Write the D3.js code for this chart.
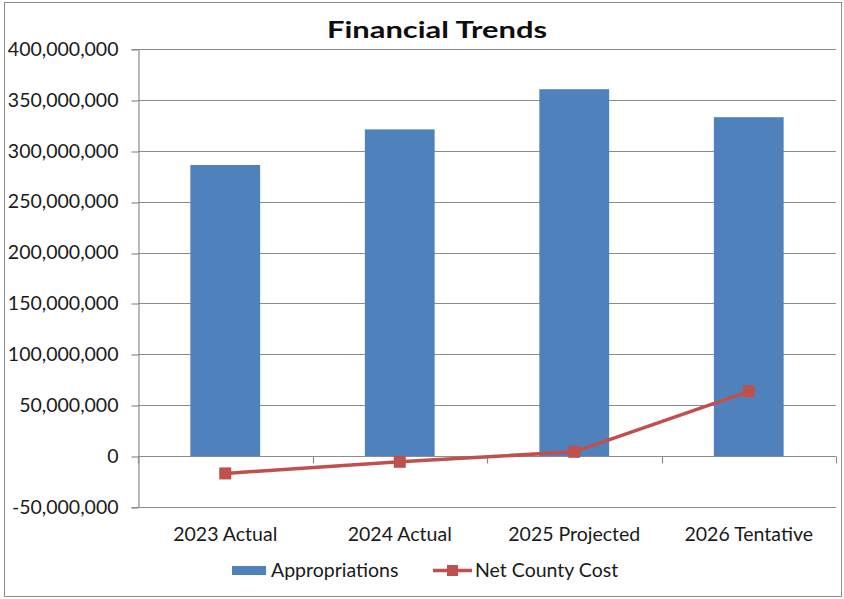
<!DOCTYPE html>
<html>
<head>
<meta charset="utf-8">
<script src="https://cdn.jsdelivr.net/npm/d3@7"></script>
<style>
  html, body { margin: 0; padding: 0; background: #fff; }
  svg { display: block; font-family: Lato, "Open Sans", sans-serif; }
</style>
</head>
<body>
<svg id="chart" width="844" height="599"></svg>
<script>
// Budget categories and series (dollars)
const categories = ["2023 Actual", "2024 Actual", "2025 Projected", "2026 Tentative"];
const appropriations = [286000000, 321000000, 360500000, 333000000];
const netCountyCost = [-17000000, -5600000, 4200000, 63700000];
const yTicks = [-50000000, 0, 50000000, 100000000, 150000000, 200000000, 250000000, 300000000, 350000000, 400000000];

const svg = d3.select("#chart");
const plot = { left: 138, right: 836, top: 49, bottom: 507 };
const labelSize = 19.5;
const textColor = "#1a1a1a";
const gridColor = "#8c8c8c";

// outer chart frame
svg.append("rect")
  .attr("x", 4.5).attr("y", 2.5).attr("width", 837).attr("height", 594)
  .attr("fill", "#fff").attr("stroke", gridColor).attr("stroke-width", 1);

const x = d3.scaleBand().domain(categories).range([plot.left, plot.right]).paddingInner(0).paddingOuter(0);
const y = d3.scaleLinear().domain([-50000000, 400000000]).range([plot.bottom, plot.top]);
const snap = v => Math.round(v) + 0.5;

// horizontal gridlines
svg.append("g").selectAll("line").data(yTicks).join("line")
  .attr("x1", plot.left).attr("x2", plot.right)
  .attr("y1", d => snap(y(d))).attr("y2", d => snap(y(d)))
  .attr("stroke", gridColor).attr("stroke-width", 1.2);

// y axis
const yAxis = d3.axisLeft(y).tickValues(yTicks).tickSize(7).tickPadding(13)
  .tickFormat(d => d3.format(",")(d).replace("−", "-"));
const gy = svg.append("g").attr("transform", `translate(${plot.left + 0.5},0)`).call(yAxis);
gy.select(".domain").attr("stroke", gridColor).attr("stroke-width", 1.2);
gy.selectAll(".tick line").attr("stroke", gridColor).attr("stroke-width", 1.2)
  .attr("transform", d => `translate(0,${snap(y(d)) - y(d)})`);
gy.selectAll(".tick text").attr("font-size", labelSize).attr("fill", textColor)
  .attr("font-family", "Lato, sans-serif");

// bars
const barW = x.bandwidth() / 2.5;
svg.append("g").selectAll("rect").data(appropriations).join("rect")
  .attr("x", (d, i) => x(categories[i]) + (x.bandwidth() - barW) / 2)
  .attr("y", d => y(d))
  .attr("width", barW)
  .attr("height", d => y(0) - y(d))
  .attr("fill", "#4f81bd");

// x axis along the zero line
const zeroY = snap(y(0));
svg.append("line").attr("x1", plot.left).attr("x2", plot.right).attr("y1", zeroY).attr("y2", zeroY)
  .attr("stroke", gridColor).attr("stroke-width", 1.2);
const boundaries = categories.map(c => x(c)).concat([plot.right]);
svg.append("g").selectAll("line").data(boundaries).join("line")
  .attr("x1", d => snap(d)).attr("x2", d => snap(d))
  .attr("y1", zeroY).attr("y2", zeroY + 7)
  .attr("stroke", gridColor).attr("stroke-width", 1.2);

// category labels
svg.append("g").selectAll("text").data(categories).join("text")
  .attr("x", d => x(d) + x.bandwidth() / 2)
  .attr("y", 541)
  .attr("text-anchor", "middle")
  .attr("font-size", labelSize).attr("fill", textColor)
  .text(d => d);

// net county cost line with square markers
const line = d3.line().x((d, i) => x(categories[i]) + x.bandwidth() / 2).y(d => y(d));
svg.append("path").datum(netCountyCost)
  .attr("d", line).attr("fill", "none")
  .attr("stroke", "#c0504d").attr("stroke-width", 3.5).attr("stroke-linejoin", "round");
const mk = 12;
svg.append("g").selectAll("rect").data(netCountyCost).join("rect")
  .attr("x", (d, i) => x(categories[i]) + x.bandwidth() / 2 - mk / 2)
  .attr("y", d => y(d) - mk / 2)
  .attr("width", mk).attr("height", mk)
  .attr("fill", "#c0504d");

// title
svg.append("text").attr("x", 437).attr("y", 38).attr("text-anchor", "middle")
  .attr("font-size", 23).attr("font-weight", "bold").attr("fill", "#0d0d0d")
  .attr("textLength", 220).attr("lengthAdjust", "spacingAndGlyphs")
  .text("Financial Trends");

// legend
const lg = svg.append("g");
lg.append("rect").attr("x", 232).attr("y", 566).attr("width", 34).attr("height", 9).attr("fill", "#4f81bd");
lg.append("text").attr("x", 271).attr("y", 577).attr("font-size", labelSize).attr("fill", textColor).text("Appropriations");
lg.append("line").attr("x1", 433).attr("x2", 472).attr("y1", 570.5).attr("y2", 570.5)
  .attr("stroke", "#c0504d").attr("stroke-width", 3.5);
lg.append("rect").attr("x", 447).attr("y", 565).attr("width", 11).attr("height", 11).attr("fill", "#c0504d");
lg.append("text").attr("x", 475).attr("y", 577).attr("font-size", labelSize).attr("fill", textColor).text("Net County Cost");
</script>
</body>
</html>
